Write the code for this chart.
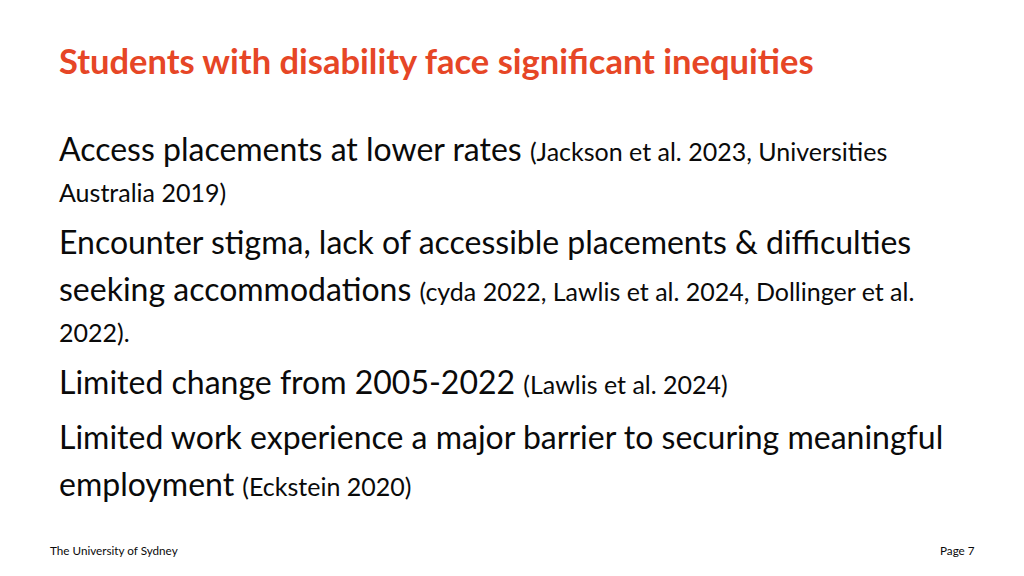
<!DOCTYPE html>
<html><head><meta charset="utf-8">
<script src="https://cdn.jsdelivr.net/npm/chart.js@4"></script>
<style>
html,body{margin:0;padding:0;background:#fff;}
#slide{position:relative;width:1024px;height:576px;overflow:hidden;font-family:Lato,"Open Sans",sans-serif;color:#0a0a0a;}
.l{position:absolute;left:59px;white-space:nowrap;font-size:32px;line-height:1;}
.r{font-size:25px;}
#title{position:absolute;left:59px;top:40px;font-size:34.5px;font-weight:bold;color:#E64626;white-space:nowrap;}
.f{position:absolute;top:543px;font-size:11.7px;}
</style></head><body>
<div id="slide">
<div id="title">Students with disability face significant inequities</div>
<div class="l" style="top:133px">Access placements at lower rates <span class="r">(Jackson et al. 2023, Universities</span></div>
<div class="l r" style="top:180px">Australia 2019)</div>
<div class="l" style="top:226px">Encounter stigma, lack of accessible placements &amp; difficulties</div>
<div class="l" style="top:273px">seeking accommodations <span class="r">(cyda 2022, Lawlis et al. 2024, Dollinger et al.</span></div>
<div class="l r" style="top:320px">2022).</div>
<div class="l" style="top:366px">Limited change from 2005-2022 <span class="r">(Lawlis et al. 2024)</span></div>
<div class="l" style="top:421px">Limited work experience a major barrier to securing meaningful</div>
<div class="l" style="top:468px">employment <span class="r">(Eckstein 2020)</span></div>
<div class="f" style="left:50px">The University of Sydney</div>
<div class="f" style="left:940px">Page 7</div>
</div>
</body></html>
